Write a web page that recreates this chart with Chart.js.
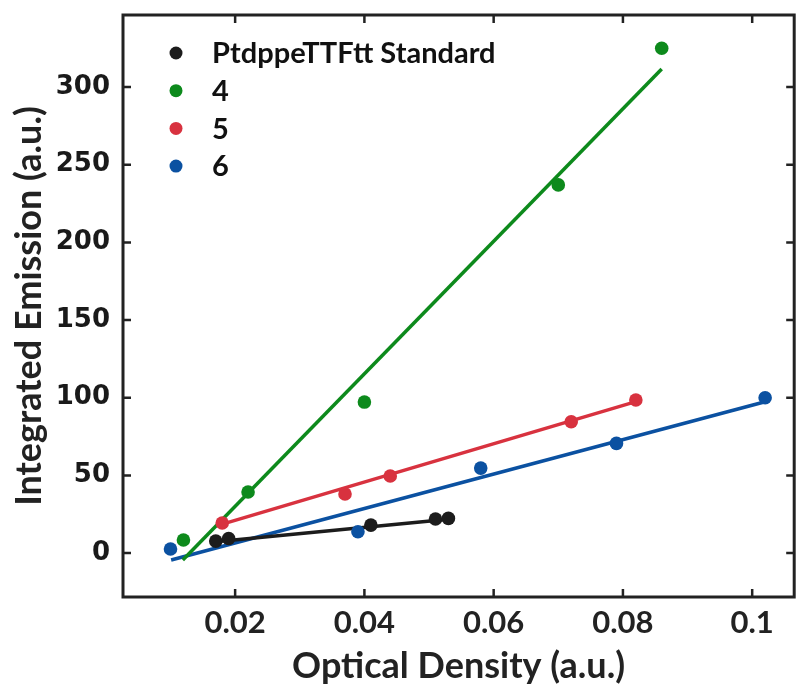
<!DOCTYPE html>
<html>
<head>
<meta charset="utf-8">
<script src="https://cdn.jsdelivr.net/npm/chart.js@4/dist/chart.umd.min.js"></script>
<style>
  html, body { margin: 0; padding: 0; background: #fff; }
  #wrap { width: 801px; height: 691px; }
</style>
</head>
<body>
<div id="wrap"><canvas id="chart" width="801" height="691"></canvas></div>
<script>
// measured points (optical density vs integrated emission)
const seriesNames = ['PtdppeTTFtt Standard', '4', '5', '6'];
const seriesColors = ['#1c1c1c', '#0d8a1c', '#d8323f', '#0b51a1'];

const odStandard = [0.017, 0.019, 0.041, 0.051, 0.053];
const emStandard = [7.7, 9.4, 18.0, 21.9, 22.3];
const od4 = [0.012, 0.022, 0.040, 0.070, 0.086];
const em4 = [8.4, 39.3, 97.2, 237, 325];
const od5 = [0.018, 0.037, 0.044, 0.072, 0.082];
const em5 = [19.3, 38.0, 49.6, 84.5, 98.5];
const od6 = [0.010, 0.039, 0.058, 0.079, 0.102];
const em6 = [2.6, 13.7, 54.7, 70.6, 100];

// linear fit end points
const fitStandardX = [0.017, 0.053];
const fitStandardY = [7.3, 21.7];
const fit4X = [0.0119, 0.086];
const fit4Y = [-4.5, 311.6];
const fit5X = [0.0175, 0.082];
const fit5Y = [18.0, 97.5];
const fit6X = [0.0101, 0.102];
const fit6Y = [-4.5, 97.4];

const xTicks = [0.02, 0.04, 0.06, 0.08, 0.1];
const yTicks = [0, 50, 100, 150, 200, 250, 300];

const pts = (xs, ys) => xs.map((x, i) => ({ x: x, y: ys[i] }));

const pointSets = [pts(odStandard, emStandard), pts(od4, em4), pts(od5, em5), pts(od6, em6)];
const fitSets = [pts(fitStandardX, fitStandardY), pts(fit4X, fit4Y), pts(fit5X, fit5Y), pts(fit6X, fit6Y)];

const datasets = [];
pointSets.forEach((d, i) => {
  datasets.push({
    label: seriesNames[i],
    data: d,
    showLine: false,
    pointRadius: 6.8,
    pointHoverRadius: 6.8,
    pointBackgroundColor: seriesColors[i],
    pointBorderWidth: 0,
    order: 0
  });
});
fitSets.forEach((d, i) => {
  datasets.push({
    label: seriesNames[i] + ' fit',
    data: d,
    showLine: true,
    borderColor: seriesColors[i],
    borderWidth: 3.5,
    pointRadius: 0,
    order: 1
  });
});

// frame with inward ticks on all four sides
const framePlugin = {
  id: 'frame',
  afterDraw(chart) {
    const { ctx, chartArea: a, scales } = chart;
    ctx.save();
    ctx.strokeStyle = '#222';
    ctx.lineWidth = 3;
    ctx.strokeRect(a.left, a.top, a.right - a.left, a.bottom - a.top);
    ctx.lineWidth = 2.5;
    const len = 8;
    ctx.beginPath();
    xTicks.forEach(v => {
      const px = scales.x.getPixelForValue(v);
      ctx.moveTo(px, a.bottom); ctx.lineTo(px, a.bottom - len);
      ctx.moveTo(px, a.top); ctx.lineTo(px, a.top + len);
    });
    yTicks.forEach(v => {
      const py = scales.y.getPixelForValue(v);
      ctx.moveTo(a.left, py); ctx.lineTo(a.left + len, py);
      ctx.moveTo(a.right, py); ctx.lineTo(a.right - len, py);
    });
    ctx.stroke();
    ctx.restore();
  }
};

// legend inside the plot, top left
const legendPlugin = {
  id: 'innerLegend',
  afterDraw(chart) {
    const { ctx, chartArea: a } = chart;
    ctx.save();
    ctx.font = 'bold 29px Lato';
    ctx.textBaseline = 'middle';
    ctx.textAlign = 'left';
    seriesNames.forEach((name, i) => {
      const y = a.top + 38 + i * 37.7;
      ctx.fillStyle = seriesColors[i];
      ctx.beginPath();
      ctx.arc(a.left + 53, y, 6.5, 0, Math.PI * 2);
      ctx.fill();
      ctx.fillStyle = '#111';
      ctx.fillText(name, a.left + 89, y + 1);
    });
    ctx.restore();
  }
};

new Chart(document.getElementById('chart'), {
  type: 'scatter',
  data: { datasets: datasets },
  options: {
    responsive: false,
    animation: false,
    layout: { padding: { top: 15, right: 1, left: 0, bottom: 0 } },
    plugins: { legend: { display: false }, tooltip: { enabled: false } },
    scales: {
      x: {
        type: 'linear',
        min: 0.00265,
        max: 0.1065,
        afterBuildTicks: s => { s.ticks = xTicks.map(v => ({ value: v })); },
        afterFit: s => { s.height = 94; s.paddingLeft = 0; s.paddingRight = 0; },
        grid: { display: false, drawTicks: false },
        border: { display: false },
        ticks: {
          color: '#222',
          font: { family: 'Lato', weight: 'bold', size: 31 },
          padding: 7,
          maxRotation: 0,
          callback: v => String(v)
        },
        title: {
          display: true,
          text: 'Optical Density (a.u.)',
          color: '#222',
          font: { family: 'Lato', weight: 'bold', size: 36 },
          padding: { top: 0, bottom: 3 }
        }
      },
      y: {
        type: 'linear',
        min: -28.3,
        max: 346.4,
        afterBuildTicks: s => { s.ticks = yTicks.map(v => ({ value: v })); },
        afterFit: s => { s.width = 123; s.paddingTop = 0; s.paddingBottom = 0; },
        grid: { display: false, drawTicks: false },
        border: { display: false },
        ticks: {
          color: '#1a1a1a',
          font: { family: 'DejaVu Sans', weight: 'bold', size: 26 },
          padding: 13
        },
        title: {
          display: true,
          text: 'Integrated Emission (a.u.)',
          color: '#222',
          font: { family: 'Lato', weight: 'bold', size: 36 },
          padding: { top: 8, bottom: 0 }
        }
      }
    }
  },
  plugins: [framePlugin, legendPlugin]
});
</script>
</body>
</html>
